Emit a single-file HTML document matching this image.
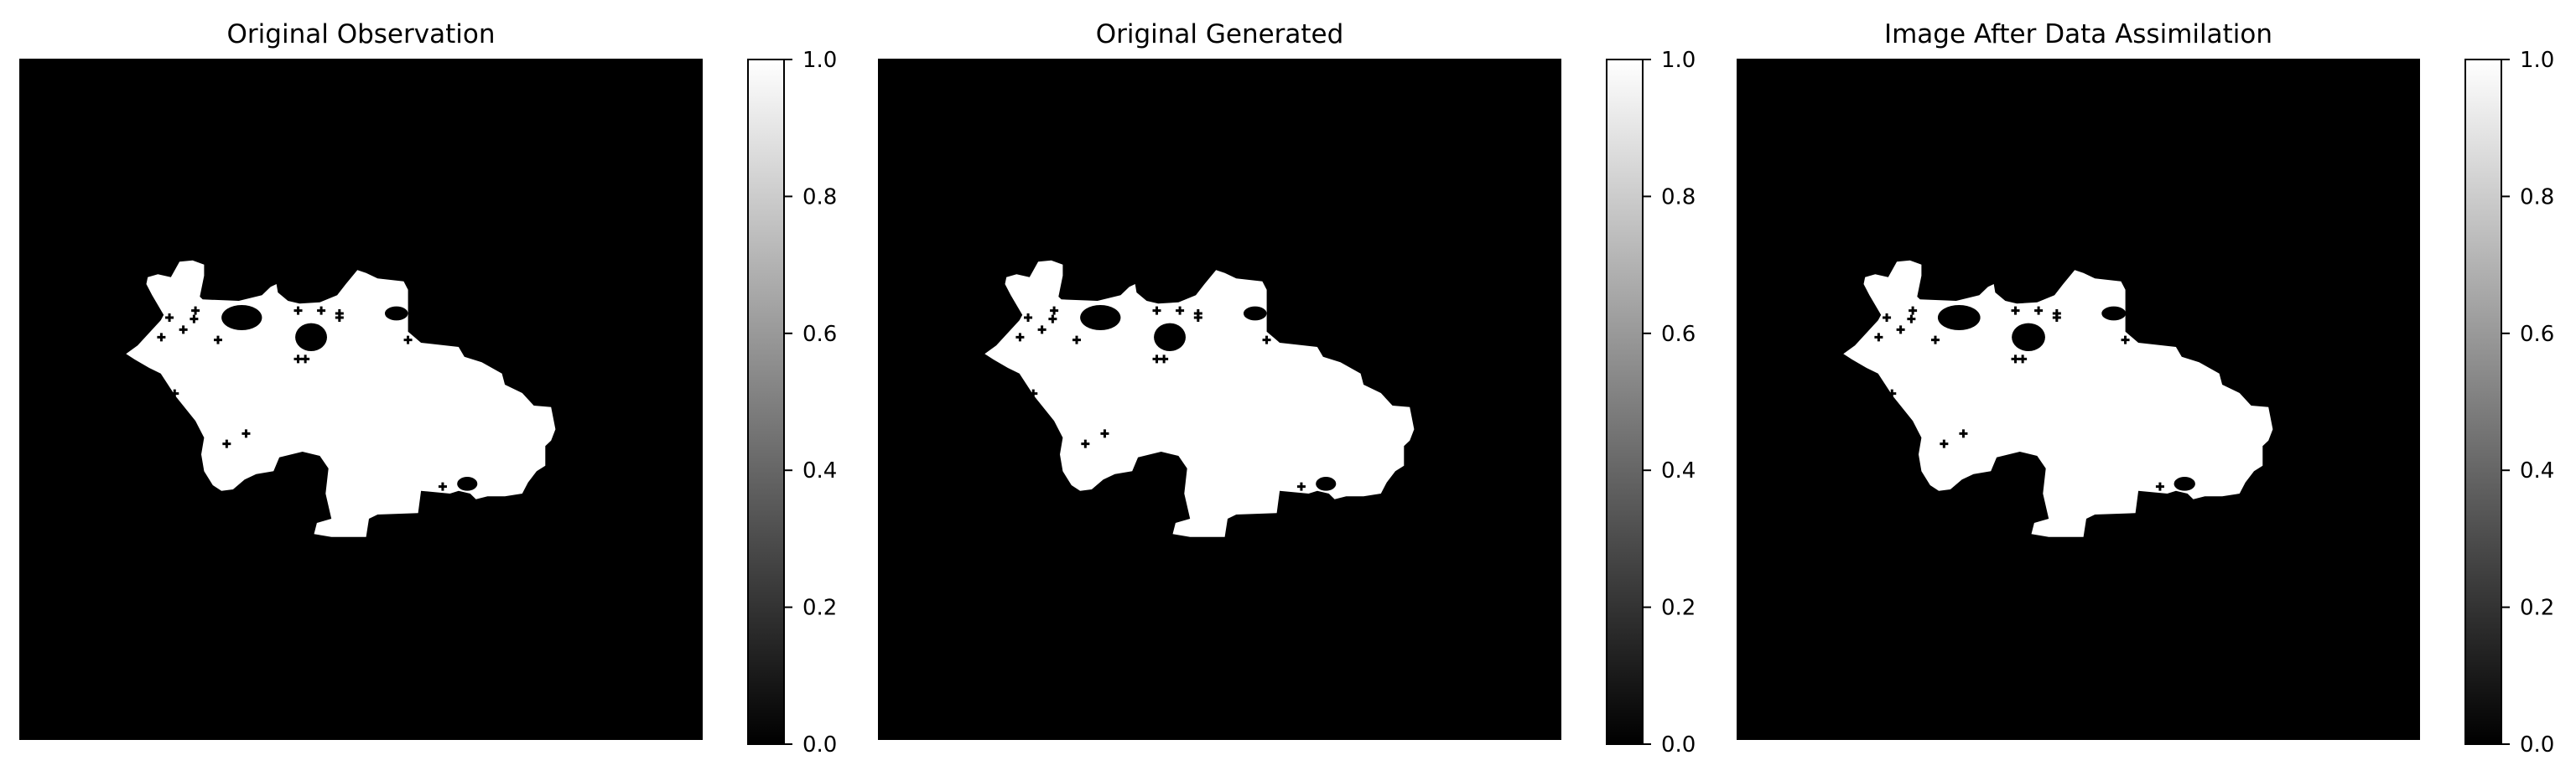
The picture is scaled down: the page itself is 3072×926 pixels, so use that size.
<!DOCTYPE html>
<html><head><meta charset="utf-8"><style>
html,body{margin:0;padding:0;background:#fff;}
svg{display:block;font-family:"DejaVu Sans","Liberation Sans",sans-serif;}
</style></head><body>
<svg id="fig" width="3072" height="926" viewBox="0 0 3072 926" xmlns="http://www.w3.org/2000/svg">
<defs>
<linearGradient id="cb" x1="0" y1="1" x2="0" y2="0">
<stop offset="0" stop-color="#000"/><stop offset="1" stop-color="#fff"/>
</linearGradient>
</defs>
</svg>
<script>
// panel definitions
const titles = ["Original Observation", "Original Generated", "Image After Data Assimilation"];
const panelLefts = [23, 1047, 2071];
const cbTicks = [0.0, 0.2, 0.4, 0.6, 0.8, 1.0];
// blob outline in zoom coordinates (zx, zy) relative to panel origin
const outline = [[105,95],[140,85],[185,95],[215,40],[260,35],[300,50],[300,90],[285,165],[295,175],[420,180],[500,160],[530,130],[550,120],[555,150],[590,180],[630,190],[700,185],[760,160],[790,120],[830,70],[860,80],[900,100],[990,110],[1005,140],[1005,290],[1050,330],[1180,345],[1200,380],[1260,400],[1330,440],[1340,480],[1400,510],[1440,555],[1500,560],[1515,640],[1500,680],[1480,700],[1480,770],[1450,790],[1420,830],[1400,870],[1340,880],[1280,880],[1240,890],[1220,870],[1180,860],[1150,870],[1050,860],[1040,940],[900,945],[870,960],[860,1025],[740,1025],[680,1015],[690,975],[740,960],[720,870],[730,780],[700,735],[640,720],[560,740],[540,790],[480,800],[440,820],[400,855],[360,860],[330,840],[300,790],[290,730],[300,670],[270,610],[200,520],[150,440],[110,420],[60,390],[30,370],[70,340],[150,250],[160,230],[120,160],[100,120]];
const bigHoles = [[430,240,70,45],[670,310,55,50],[965,225,40,25],[1210,835,35,25]];
const smallHoles = [[270,215],[265,245],[180,240],[228,283],[152,310],[348,320],[625,215],[705,215],[768,225],[768,240],[1005,320],[625,388],[650,388],[198,512],[445,655],[378,692],[1125,845]];

const NS = "http://www.w3.org/2000/svg";
const svg = document.getElementById('fig');
const imgTop = 70, imgW = 815, imgH = 813;
const cbTop = 71, cbBottom = 888, cbW = 43;
function mk(tag, attrs, parent){ const e=document.createElementNS(NS,tag); for(const k in attrs) e.setAttribute(k,attrs[k]); (parent||svg).appendChild(e); return e; }
function bx(p,zx){ return p + 117 + zx/2.9; }
function by(zy){ return imgTop + 229 + zy/3; }

panelLefts.forEach((L, i) => {
  const g = mk('g', {});
  
  
  const t = mk('text', {x: L + imgW/2, y: 51, 'text-anchor':'middle', 'font-size':31, fill:'#000'}, g);
  t.textContent = titles[i];
  
  
  const bg = mk('rect', {x:L, y:imgTop, width:imgW, height:imgH, fill:'#000'}, g);
  
  
  const d = outline.map((p,j)=>(j?'L':'M')+bx(L,p[0]).toFixed(1)+','+by(p[1]).toFixed(1)).join(' ')+'Z';
  const blob = mk('path', {d:d, fill:'#fff'}, g);
  
  
  bigHoles.forEach(h => {
    const e = mk('ellipse', {cx:bx(L,h[0]), cy:by(h[1]), rx:h[2]/2.9*(i===2?1.05:1), ry:h[3]/3, fill:'#000'}, g);
    
    
  });
  smallHoles.forEach(h => {
    const cx = bx(L,h[0]), cy = by(h[1]);
    const c = mk('path', {d:`M${cx-5},${cy-1.5}h3.5v-3.5h3v3.5h3.5v3h-3.5v3.5h-3v-3.5h-3.5z`, fill:'#000'}, g);
    
    
  });
  // colorbar
  const cbx = L + 869;
  const cb = mk('rect', {x:cbx, y:cbTop, width:cbW, height:cbBottom-cbTop, fill:'url(#cb)', stroke:'#000', 'stroke-width':2}, g);
  
  
  cbTicks.forEach(v => {
    const y = cbBottom - v*(cbBottom-cbTop);
    const tk = mk('line', {x1:cbx+cbW, x2:cbx+cbW+10, y1:y, y2:y, stroke:'#000', 'stroke-width':2}, g);
    
    
    const tl = mk('text', {x:cbx+cbW+22, y:y+9, 'font-size':26, fill:'#000'}, g);
    tl.textContent = v.toFixed(1);
    
    
  });
});
</script>
</body></html>
